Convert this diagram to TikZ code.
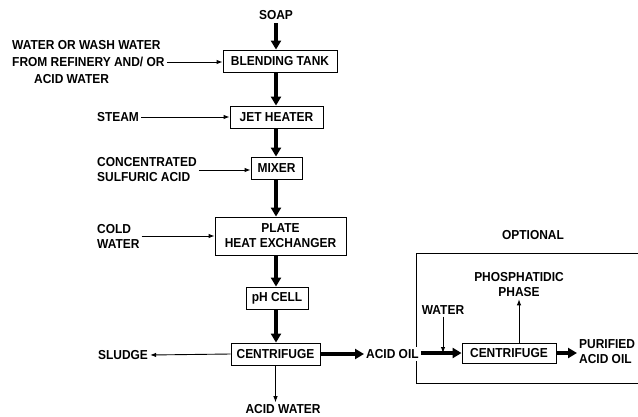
\documentclass[tikz,border=0pt]{standalone}
\usepackage{fontspec}
\setmainfont{Liberation Sans}[FakeStretch=0.92]
\usepackage{tikz}
\usetikzlibrary{arrows.meta}
\tikzset{>=latex}

\begin{document}
\begin{tikzpicture}[x=1pt, y=-1pt,
    font=\fontsize{13}{15}\selectfont\bfseries,
    unit/.style={draw, line width=0.9pt, minimum height=22pt, inner sep=0pt},
    feed/.style={line width=0.9pt, -{Latex[length=6pt, width=4.5pt]}},
    mainflow/.style={line width=4pt, -{Triangle[length=9pt, width=10pt]}},
    lbl/.style={inner sep=2pt, align=left}]
    \useasboundingbox (0, 0) rectangle (638, 416);
    \coordinate (spine) at (276, 0);

    % main column
    \node (soap) at (276, 15) {SOAP};
    \node[unit, minimum width=114pt] (blend) at (280, 61) {BLENDING TANK};
    \node[unit, minimum width=93pt] (jet) at (276.5, 117) {JET HEATER};
    \node[unit, minimum width=51pt] (mixer) at (276.5, 168) {MIXER};
    \node[unit, minimum width=131pt, minimum height=38pt, align=center]
        (plate) at (280.5, 236) {PLATE\\HEAT EXCHANGER};
    \node[unit, minimum width=62pt] (phcell) at (277, 298) {pH CELL};
    \node[unit, minimum width=89pt] (cent) at (275.5, 354) {CENTRIFUGE};

    % feeds on the left
    \node[lbl, anchor=west, font=\fontsize{13}{17}\selectfont\bfseries]
        (washin) at (10, 62) {WATER OR WASH WATER\\FROM REFINERY AND/ OR\\\hspace*{22pt}ACID WATER};
    \node[lbl] (steam) at (118, 117) {STEAM};
    \node[lbl, anchor=west] (acid) at (95, 170) {CONCENTRATED\\SULFURIC ACID};
    \node[lbl, anchor=west] (cold) at (95, 236) {COLD\\WATER};

    % outputs
    \node[lbl] (sludge) at (123, 355) {SLUDGE};
    \node[lbl] (acidw) at (283, 409) {ACID WATER};

    % optional section
    \node (optional) at (533, 235) {OPTIONAL};
    \draw[line width=0.9pt] (638, 253) -| (416, 383) -- (638, 383);
    \node[lbl, anchor=west, fill=white] (acidoil) at (364, 354) {ACID OIL};
    \node[unit, minimum width=94pt, minimum height=20pt] (cent2) at (509, 353) {CENTRIFUGE};
    \node[lbl] (water) at (443, 310) {WATER};
    \node[lbl, align=center] (phos) at (519, 285) {PHOSPHATIDIC\\PHASE};
    \node[lbl, anchor=west] (purified) at (577, 352) {PURIFIED\\ACID OIL};

    \draw[mainflow] (soap.south) -- (spine |- blend.north);
    \foreach \a/\b in {blend/jet, jet/mixer, mixer/plate, plate/phcell, phcell/cent}
        \draw[mainflow] (spine |- \a.south) -- (spine |- \b.north);

    \draw[feed] (washin.east) -- (washin.east -| blend.west);
    \draw[feed] (steam.east) -- (steam.east -| jet.west);
    \draw[feed] (acid.east) -- (acid.east -| mixer.west);
    \draw[feed] (cold.east) -- (cold.east -| plate.west);

    \draw[feed] (cent.west) -- (sludge.east);
    \draw[feed] (cent.south) -- (cent.south |- acidw.north);
    \draw[mainflow] (cent.east) -- (cent.east -| acidoil.west);

    \draw[mainflow] (acidoil.east |- cent2.west) -- (cent2.west);
    \draw[feed] (water.south) -- (water.south |- cent2.west);
    \draw[feed] (cent2.north -| phos.south) -- (phos.south);
    \draw[mainflow] (cent2.east) -- (cent2.east -| purified.west);
\end{tikzpicture}
\end{document}
